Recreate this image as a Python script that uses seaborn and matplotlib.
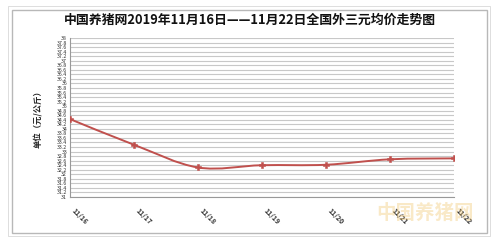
import matplotlib
matplotlib.use("Agg")
import matplotlib.pyplot as plt
import seaborn as sns
import numpy as np
import pandas as pd
from matplotlib.patches import Rectangle, PathPatch
from matplotlib.path import Path

dates = ["11/16", "11/17", "11/18", "11/19", "11/20", "11/21", "11/22"]
prices = [34.43, 33.30, 32.30, 32.40, 32.42, 32.66, 32.70]
y_ticks = [round(31 + 0.2 * i, 1) for i in range(36)]
title = "中国养猪网2019年11月16日——11月22日全国外三元均价走势图"
ylabel = "单位（元/公斤）"

sns.set_theme(style="white")
plt.rcParams['font.family'] = ['Noto Sans CJK SC', 'DejaVu Sans']

fig = plt.figure(figsize=(5.0, 2.43), dpi=100)
fig.patch.set_facecolor("white")

# outer frame
fig.add_artist(Rectangle((12/500, 1-233/243), (487-12)/500, (233-10)/243,
                         transform=fig.transFigure, fill=False,
                         edgecolor="#b8b8b8", lw=1.0))
fig.add_artist(Rectangle((8/500, 1-236/243), (490-8)/500, (236-6)/243,
                         transform=fig.transFigure, fill=False,
                         edgecolor="#d8d8d8", lw=0.6))

ax = fig.add_axes([70/500, 1-197/243, (454-70)/500, (197-38)/243])
df = pd.DataFrame({"x": np.arange(len(dates)), "price": prices})

# smoothed line (Excel-style bezier through the data points)
xs = df["x"].to_numpy(float)
ys = df["price"].to_numpy(float)
verts = [(xs[0], ys[0])]
codes = [Path.MOVETO]
n = len(xs)
for i in range(n - 1):
    p0 = np.array([xs[max(i - 1, 0)], ys[max(i - 1, 0)]])
    p1 = np.array([xs[i], ys[i]])
    p2 = np.array([xs[i + 1], ys[i + 1]])
    p3 = np.array([xs[min(i + 2, n - 1)], ys[min(i + 2, n - 1)]])
    c1 = p1 + (p2 - p0) / 6
    c2 = p2 - (p3 - p1) / 6
    verts += [tuple(c1), tuple(c2), tuple(p2)]
    codes += [Path.CURVE4] * 3
ax.add_patch(PathPatch(Path(verts, codes), facecolor="none",
                       edgecolor="#c0504d", lw=1.4, zorder=3))

sns.scatterplot(data=df, x="x", y="price", ax=ax, color="#c0504d",
                marker="P", s=22, edgecolor="#c0504d", zorder=4)

ax.set_xlim(0, len(dates) - 1)
ax.set_ylim(31, 38)
ax.set_yticks(y_ticks)
ax.set_yticklabels([f"{v:g}" for v in y_ticks], fontsize=3.8, color="#333333")
ax.set_xticks(np.arange(len(dates)))
ax.set_xticklabels(dates, rotation=-45, ha="left", va="top", fontsize=5,
                   color="#333333", fontweight="bold")
ax.tick_params(axis="x", length=2, pad=5, color="#999999")
ax.tick_params(axis="y", length=0, pad=2)
ax.grid(axis="y", color="#c8c8c8", lw=0.8)
for s in ["top", "right"]:
    ax.spines[s].set_visible(False)
ax.spines["left"].set_color("#999999")
ax.spines["bottom"].set_color("#999999")
ax.spines["left"].set_linewidth(0.8)
ax.spines["bottom"].set_linewidth(0.8)
ax.set_xlabel("")
ax.set_ylabel(ylabel, fontsize=6, fontweight="bold", labelpad=10)

fig.text(0.5, 1-20/243, title, ha="center", va="center", fontsize=9.3,
         fontweight="bold", color="#111111")

# watermark
fig.text(0.85, 1-213/243, "中国养猪网", ha="center", va="center", fontsize=14,
         fontweight="bold", color="#f0c060", alpha=0.35)

fig.savefig("out.png", dpi=100)
